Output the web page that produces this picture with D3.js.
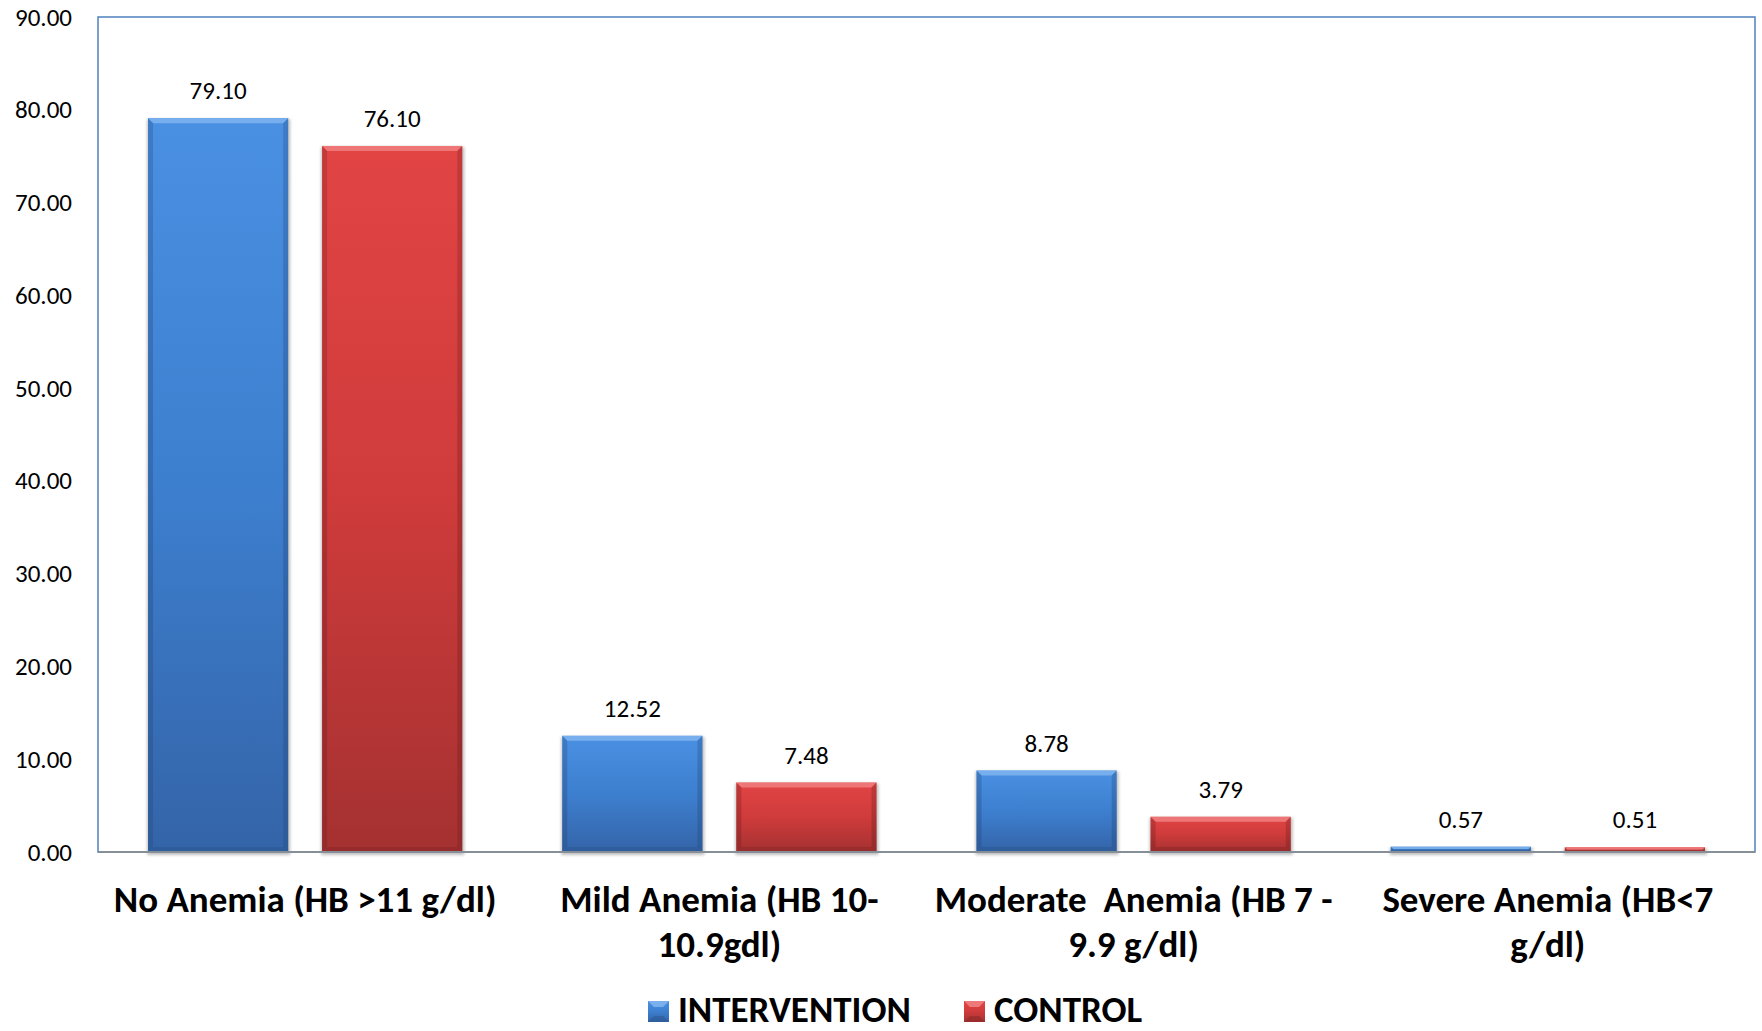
<!DOCTYPE html>
<html>
<head>
<meta charset="utf-8">
<script src="https://cdn.jsdelivr.net/npm/d3@7"></script>
<style>
  html, body { margin: 0; padding: 0; background: #fff; }
  svg { display: block; }
  text { font-family: Calibri, Carlito, Lato, "Open Sans", sans-serif; }
</style>
</head>
<body>
<svg id="chart" width="1762" height="1031"></svg>
<script>
// Haemoglobin status by group (%)
const categories = [
  ["No Anemia (HB >11 g/dl)"],
  ["Mild Anemia (HB 10-", "10.9gdl)"],
  ["Moderate  Anemia (HB 7 -", "9.9 g/dl)"],
  ["Severe Anemia (HB<7", "g/dl)"]
];
const seriesNames = ["INTERVENTION", "CONTROL"];
const intervention = [79.10, 12.52, 8.78, 0.57];
const control = [76.10, 7.48, 3.79, 0.51];
const yTicks = [0, 10, 20, 30, 40, 50, 60, 70, 80, 90];

const palette = {
  INTERVENTION: { top: "#4a90e2", mid: "#3d7fcf", bottom: "#3464a8", light: "#7fb4f0", dark: "#2a5590" },
  CONTROL:      { top: "#e24444", mid: "#cf3b3b", bottom: "#a53131", light: "#f07f7f", dark: "#8a2626" }
};

const svg = d3.select("#chart");
const plot = { left: 98, top: 17, right: 1755, bottom: 852 };

const x0 = d3.scaleBand()
  .domain(d3.range(categories.length))
  .range([plot.left, plot.right])
  .paddingInner(0.2415)
  .paddingOuter(0.1208);
const x1 = d3.scaleBand()
  .domain(seriesNames)
  .range([0, x0.bandwidth()])
  .paddingInner(0.195);
const y = d3.scaleLinear().domain([0, 90]).range([plot.bottom, plot.top]);

const defs = svg.append("defs");
seriesNames.forEach(s => {
  const c = palette[s];
  const g = defs.append("linearGradient").attr("id", "grad-" + s)
    .attr("x1", 0).attr("y1", 0).attr("x2", 0).attr("y2", 1);
  g.append("stop").attr("offset", "0%").attr("stop-color", c.top);
  g.append("stop").attr("offset", "50%").attr("stop-color", c.mid);
  g.append("stop").attr("offset", "100%").attr("stop-color", c.bottom);
  const side = defs.append("linearGradient").attr("id", "side-" + s)
    .attr("x1", 0).attr("y1", 0).attr("x2", 0).attr("y2", 1);
  side.append("stop").attr("offset", "0%").attr("stop-color", c.dark).attr("stop-opacity", 0.35);
  side.append("stop").attr("offset", "100%").attr("stop-color", c.dark).attr("stop-opacity", 0.6);
});
const shadow = defs.append("filter").attr("id", "shadow")
  .attr("x", "-10%").attr("y", "-10%").attr("width", "120%").attr("height", "130%");
shadow.append("feGaussianBlur").attr("stdDeviation", 1.5);

// Plot frame
svg.append("rect")
  .attr("x", plot.left).attr("y", plot.top)
  .attr("width", plot.right - plot.left).attr("height", plot.bottom - plot.top)
  .attr("fill", "none").attr("stroke", "#4f81bd").attr("stroke-width", 1.5);

// Y axis labels
const yAxis = d3.axisLeft(y).tickValues(yTicks).tickFormat(d3.format(".2f")).tickSize(0).tickPadding(26);
const ya = svg.append("g").attr("transform", `translate(${plot.left},0)`).call(yAxis);
ya.select(".domain").remove();
ya.selectAll("text").attr("font-size", 25).attr("fill", "#000")
  .style("font-family", "Calibri, Carlito, Lato, 'Open Sans', sans-serif");

// Bars
const rows = categories.map((c, i) => ({ i, vals: [
  { s: "INTERVENTION", v: intervention[i] },
  { s: "CONTROL", v: control[i] }
]}));

const groups = svg.append("g").selectAll("g").data(rows).join("g")
  .attr("transform", d => `translate(${x0(d.i)},0)`);

const bars = groups.selectAll("g.bar").data(d => d.vals).join("g").attr("class", "bar");

bars.each(function(d) {
  const g = d3.select(this);
  const bx = x1(d.s), bw = x1.bandwidth();
  const by = y(d.v), bh = y(0) - y(d.v);
  const c = palette[d.s];
  const bev = Math.min(5, bh / 2);
  // soft shadow
  g.append("rect").attr("x", bx - 1).attr("y", by + 1).attr("width", bw + 3).attr("height", bh + 2)
    .attr("fill", "#000").attr("opacity", 0.25).attr("filter", "url(#shadow)");
  g.append("rect").attr("x", bx).attr("y", by).attr("width", bw).attr("height", bh)
    .attr("fill", `url(#grad-${d.s})`);
  // bevel: top light, sides and bottom darker
  g.append("path")
    .attr("d", `M${bx},${by}L${bx + bw},${by}L${bx + bw - bev},${by + bev}L${bx + bev},${by + bev}Z`)
    .attr("fill", c.light).attr("opacity", 0.85);
  g.append("path")
    .attr("d", `M${bx},${by}L${bx + bev},${by + bev}L${bx + bev},${by + bh - bev}L${bx},${by + bh}Z`)
    .attr("fill", `url(#side-${d.s})`);
  g.append("path")
    .attr("d", `M${bx + bw},${by}L${bx + bw - bev},${by + bev}L${bx + bw - bev},${by + bh - bev}L${bx + bw},${by + bh}Z`)
    .attr("fill", `url(#side-${d.s})`);
  g.append("path")
    .attr("d", `M${bx},${by + bh}L${bx + bev},${by + bh - bev}L${bx + bw - bev},${by + bh - bev}L${bx + bw},${by + bh}Z`)
    .attr("fill", c.dark).attr("opacity", 0.5);
  // value label
  g.append("text")
    .attr("x", bx + bw / 2).attr("y", by - 19)
    .attr("text-anchor", "middle").attr("font-size", 25).attr("fill", "#000")
    .text(d3.format(".2f")(d.v));
});

// Baseline
svg.append("line")
  .attr("x1", plot.left).attr("x2", plot.right)
  .attr("y1", y(0)).attr("y2", y(0))
  .attr("stroke", "#868e98").attr("stroke-width", 2);

// Category labels
const catLabels = svg.append("g").selectAll("text").data(rows).join("text")
  .attr("x", d => x0(d.i) + x0.bandwidth() / 2)
  .attr("y", 912)
  .attr("text-anchor", "middle")
  .attr("font-size", 37).attr("font-weight", "bold").attr("fill", "#000");
catLabels.selectAll("tspan").data(d => categories[d.i]).join("tspan")
  .attr("x", function() { return this.parentNode.getAttribute("x"); })
  .attr("dy", (d, i) => i === 0 ? 0 : 45)
  .style("white-space", "pre")
  .text(d => d);

// Legend
const legendItems = [
  { s: "INTERVENTION", x: 648 },
  { s: "CONTROL", x: 964 }
];
const lg = svg.append("g").selectAll("g").data(legendItems).join("g")
  .attr("transform", d => `translate(${d.x},1001)`);
lg.append("rect").attr("width", 21).attr("height", 21).attr("fill", d => `url(#grad-${d.s})`);
lg.append("path").attr("d", "M0,0L21,0L15,6L6,6Z").attr("fill", d => palette[d.s].light).attr("opacity", 0.9);
lg.append("path").attr("d", "M0,21L21,21L15,15L6,15Z").attr("fill", d => palette[d.s].dark).attr("opacity", 0.5);
lg.append("text").attr("x", 30).attr("y", 21)
  .attr("font-size", 37).attr("font-weight", "bold").attr("fill", "#000")
  .text(d => d.s);
</script>
</body>
</html>
